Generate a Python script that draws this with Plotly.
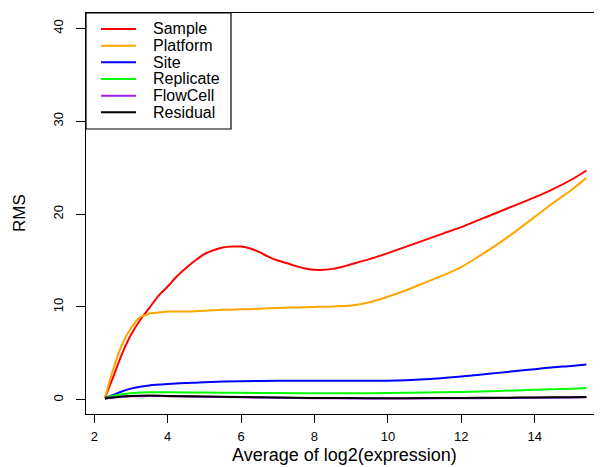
import plotly.graph_objects as go

# ---- data ----
sample_x = [2.29, 2.5, 2.75, 3.0, 3.25, 3.5, 3.75, 4.0, 4.25, 4.5, 4.75, 5.0, 5.25, 5.5, 5.75,
            6.0, 6.25, 6.5, 6.75, 7.0, 7.25, 7.5, 7.75, 8.0, 8.25, 8.5, 8.75, 9.0, 9.5, 10.0,
            10.5, 11.0, 11.5, 12.0, 12.5, 13.0, 13.5, 14.0, 14.5, 15.0, 15.41]
sample_y = [0.2, 2.3, 4.9, 7.0, 8.6, 9.9, 11.2, 12.2, 13.3, 14.2, 15.0, 15.7, 16.1, 16.4, 16.5,
            16.5, 16.3, 15.9, 15.4, 15.0, 14.7, 14.4, 14.15, 14.0, 14.0, 14.1, 14.3, 14.6, 15.15, 15.8,
            16.5, 17.2, 17.9, 18.6, 19.4, 20.2, 21.0, 21.8, 22.7, 23.7, 24.7]

platform_x = [2.29, 2.5, 2.75, 3.0, 3.25, 3.42, 3.5, 3.75, 4.0, 4.5, 5.0, 5.5, 6.0, 6.5, 7.0,
              7.5, 8.0, 8.5, 9.0, 9.5, 10.0, 10.5, 11.0, 11.5, 12.0, 12.5, 13.0, 13.5, 14.0,
              14.5, 15.0, 15.41]
platform_y = [0.2, 3.1, 5.9, 7.7, 8.9, 9.15, 9.3, 9.4, 9.5, 9.5, 9.6, 9.7, 9.75, 9.8, 9.9,
              9.95, 10.0, 10.05, 10.15, 10.5, 11.1, 11.8, 12.6, 13.4, 14.3, 15.5, 16.8, 18.2, 19.7,
              21.2, 22.6, 23.9]

site_x = [2.29, 2.5, 2.75, 3.0, 3.25, 3.5, 4.0, 4.5, 5.0, 6.0, 7.0, 8.0, 9.0, 10.0, 10.5,
          11.0, 11.5, 12.0, 12.5, 13.0, 13.5, 14.0, 14.5, 15.0, 15.41]
site_y = [0.2, 0.5, 0.9, 1.2, 1.4, 1.55, 1.7, 1.8, 1.9, 2.0, 2.05, 2.05, 2.05, 2.05, 2.1,
          2.2, 2.35, 2.5, 2.7, 2.9, 3.1, 3.3, 3.5, 3.65, 3.8]

replicate_x = [2.29, 2.5, 2.75, 3.0, 3.5, 4.0, 5.0, 6.0, 7.0, 8.0, 9.0, 10.0, 11.0, 12.0,
               13.0, 14.0, 15.0, 15.41]
replicate_y = [0.15, 0.4, 0.6, 0.7, 0.8, 0.8, 0.78, 0.75, 0.72, 0.7, 0.7, 0.72, 0.78, 0.85,
               0.95, 1.07, 1.2, 1.26]

flowcell_x = [2.29, 2.5, 3.0, 3.5, 4.0, 5.0, 6.0, 7.0, 8.0, 9.0, 10.0, 11.0, 12.0, 13.0,
              14.0, 15.0, 15.41]
flowcell_y = [0.12, 0.22, 0.37, 0.42, 0.39, 0.32, 0.27, 0.22, 0.17, 0.15, 0.14, 0.15, 0.17,
              0.19, 0.22, 0.25, 0.27]

residual_x = [2.29, 2.5, 3.0, 3.5, 4.0, 5.0, 6.0, 7.0, 8.0, 9.0, 10.0, 11.0, 12.0, 13.0,
              14.0, 15.0, 15.41]
residual_y = [0.15, 0.25, 0.4, 0.45, 0.42, 0.35, 0.3, 0.25, 0.2, 0.18, 0.17, 0.18, 0.2, 0.22,
              0.25, 0.28, 0.3]

series_names = ["Sample", "Platform", "Site", "Replicate", "FlowCell", "Residual"]
series_colors = ["#ff0000", "#ffa500", "#0000ff", "#00ff00", "#a020f0", "#000000"]
x_ticks = [2, 4, 6, 8, 10, 12, 14]
y_ticks = [0, 10, 20, 30, 40]

xs = [sample_x, platform_x, site_x, replicate_x, flowcell_x, residual_x]
ys = [sample_y, platform_y, site_y, replicate_y, flowcell_y, residual_y]

FONT = "Liberation Sans, Arial, sans-serif"

fig = go.Figure()
for i in range(len(series_names)):
    fig.add_trace(go.Scatter(x=xs[i], y=ys[i], mode="lines", name=series_names[i],
                             line=dict(color=series_colors[i], width=2, shape="spline", smoothing=0.8),
                             showlegend=False))

W, H = 602, 467
L, R, T, B = 78, 7, 5, 61
pw, ph = W - L - R, H - T - B

def px_x(p):
    return (p - L) / pw

def px_y(p):
    return (H - B - p) / ph

shapes = []
annotations = []
# legend box (top-left, flush with plot frame)
shapes.append(dict(type="rect", xref="paper", yref="paper", x0=0, x1=px_x(223),
                   y0=px_y(121), y1=1, line=dict(color="black", width=1.2),
                   fillcolor="white", layer="above"))
entry_y = [21, 37.7, 54.3, 71, 87.7, 104.3]
for i, name in enumerate(series_names):
    yy = px_y(entry_y[i])
    shapes.append(dict(type="line", xref="paper", yref="paper", x0=px_x(93), x1=px_x(128),
                       y0=yy, y1=yy, line=dict(color=series_colors[i], width=2), layer="above"))
    annotations.append(dict(xref="paper", yref="paper", x=px_x(143), y=yy, text=name,
                            showarrow=False, xanchor="left", yanchor="middle",
                            font=dict(family=FONT, size=16, color="black")))

# axis titles
annotations.append(dict(xref="paper", yref="paper", x=0.5, y=px_y(447), text="Average of log2(expression)",
                        showarrow=False, xanchor="center", yanchor="middle",
                        font=dict(family=FONT, size=18, color="black")))
annotations.append(dict(xref="paper", yref="paper", x=px_x(11), y=px_y(205), text="RMS",
                        showarrow=False, xanchor="center", yanchor="middle", textangle=-90,
                        font=dict(family=FONT, size=17, color="black")))

fig.update_layout(
    width=W, height=H,
    margin=dict(l=L, r=R, t=T, b=B),
    paper_bgcolor="white", plot_bgcolor="white",
    shapes=shapes, annotations=annotations,
    showlegend=False,
    xaxis=dict(range=[1.774, 15.862], tickvals=x_ticks, ticks="outside", ticklen=8,
               tickcolor="black", showline=True, linecolor="black", linewidth=1.2, mirror=True,
               showgrid=False, zeroline=False, ticklabelstandoff=2,
               tickfont=dict(family=FONT, size=13, color="black")),
    yaxis=dict(range=[-1.53, 41.66], tickvals=y_ticks, ticks="outside", ticklen=9,
               tickcolor="black", showline=True, linecolor="black", linewidth=1.2, mirror=True,
               showgrid=False, zeroline=False, tickangle=-90, ticklabelstandoff=8,
               tickfont=dict(family=FONT, size=13, color="black")),
)

fig.write_html("out.html")
